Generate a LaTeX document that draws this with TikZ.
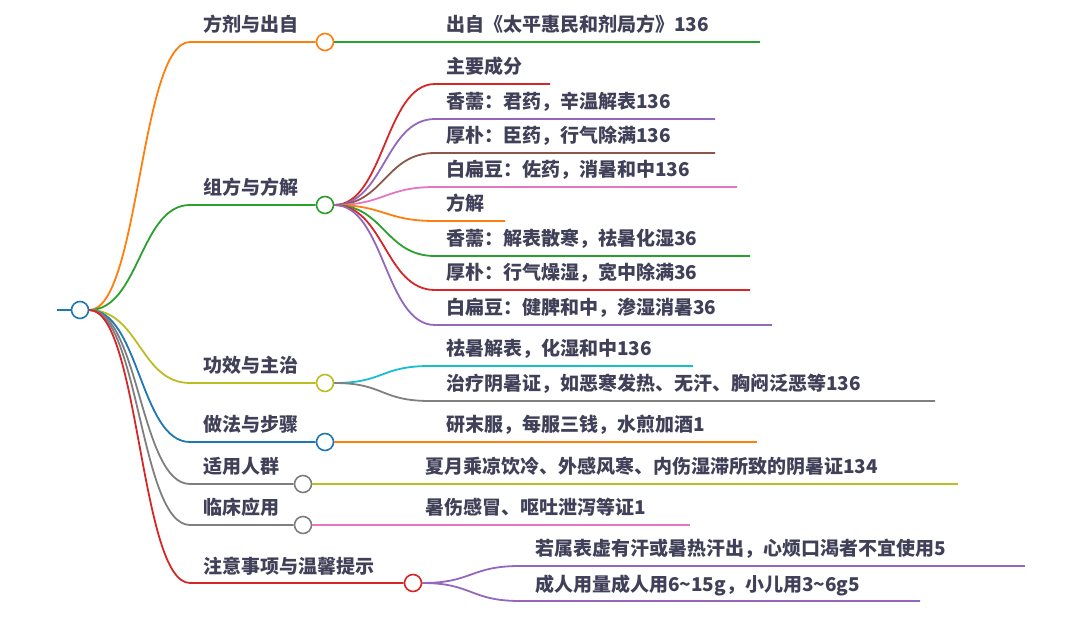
\documentclass[tikz,border=0pt]{standalone}
\usepackage{fontspec}
\newfontfamily\cjk{Noto Sans CJK SC}
\definecolor{tOrange}{HTML}{FF7F0E}
\definecolor{tGreen}{HTML}{2CA02C}
\definecolor{tRed}{HTML}{D62728}
\definecolor{tViolet}{HTML}{9467BD}
\definecolor{tBrown}{HTML}{8C564B}
\definecolor{tPink}{HTML}{E377C2}
\definecolor{tGray}{HTML}{7F7F7F}
\definecolor{tOlive}{HTML}{BCBD22}
\definecolor{tCyan}{HTML}{17BECF}
\definecolor{tBlue}{HTML}{1F77B4}
\definecolor{txt}{HTML}{404058}
\tikzset{
  dot/.style={circle, draw=#1, fill=white, line width=1.6pt, minimum size=17pt, inner sep=0pt},
  lbl/.style={anchor=base west, inner sep=0pt, text=txt, font=\cjk\bfseries\fontsize{19}{19}\selectfont},
  link/.style={line width=1.8pt}
}
\begin{document}
\begin{tikzpicture}[x=1pt, y=-1pt]
  \useasboundingbox (0,0) rectangle (1080,617);

  % root
  \node[dot=tBlue] (root) at (80,310) {};
  \coordinate (stub) at (57,310);
  \draw[tBlue, link] (stub) -- (root);

  % main branches
  \foreach \m/\y/\x/\c/\t in {m1/42/325/tOrange/方剂与出自, m2/205/325/tGreen/组方与方解,
      m3/383/325/tOlive/功效与主治, m4/442/325/tBlue/做法与步骤, m5/484/303/tGray/适用人群,
      m6/525/303/tGray/临床应用, m7/583/413/tRed/注意事项与温馨提示} {
    \coordinate (k\m) at (190,\y);
    \node[dot=\c] (\m) at (\x,\y) {};
    \node[lbl] (t\m) at (203,\y-10) {\t};
    \draw[\c, link] (root.east) .. controls +(50,0) and +(-50,0) .. (k\m) -- (\m);
  }

  % leaves
  \foreach \p/\y/\h/\tx/\e/\c/\t [count=\i] in {
      m1/42/437/446/760/tGreen/出自《太平惠民和剂局方》136,
      m2/84/435/446/550/tRed/主要成分,
      m2/119/435/446/715/tViolet/香薷：君药，辛温解表136,
      m2/153/435/446/715/tBrown/厚朴：臣药，行气除满136,
      m2/187/435/446/737/tPink/白扁豆：佐药，消暑和中136,
      m2/221/435/446/505/tOrange/方解,
      m2/256/435/446/750/tGreen/香薷：解表散寒，祛暑化湿36,
      m2/290/435/446/750/tRed/厚朴：行气燥湿，宽中除满36,
      m2/325/435/446/772/tViolet/白扁豆：健脾和中，渗湿消暑36,
      m3/366/430/446/693/tCyan/祛暑解表，化湿和中136,
      m3/401/430/446/935/tGray/治疗阴暑证，如恶寒发热、无汗、胸闷泛恶等136,
      m4/442/437/446/757/tOrange/研末服，每服三钱，水煎加酒1,
      m5/484/437/425/958/tOlive/夏月乘凉饮冷、外感风寒、内伤湿滞所致的阴暑证134,
      m6/525/437/425/690/tPink/暑伤感冒、呕吐泄泻等证1,
      m7/566/520/535/1025/tViolet/若属表虚有汗或暑热汗出，心烦口渴者不宜使用5,
      m7/601/520/535/920/tViolet/成人用量成人用6\textasciitilde 15g，小儿用3\textasciitilde 6g5} {
    \coordinate (h\i) at (\h,\y);
    \coordinate (e\i) at (\e,\y);
    \node[lbl] (l\i) at (\tx,\y-10) {\t};
    \draw[\c, link] (\p.east) .. controls +(50,0) and +(-50,0) .. (h\i) -- (e\i);
  }
\end{tikzpicture}
\end{document}
